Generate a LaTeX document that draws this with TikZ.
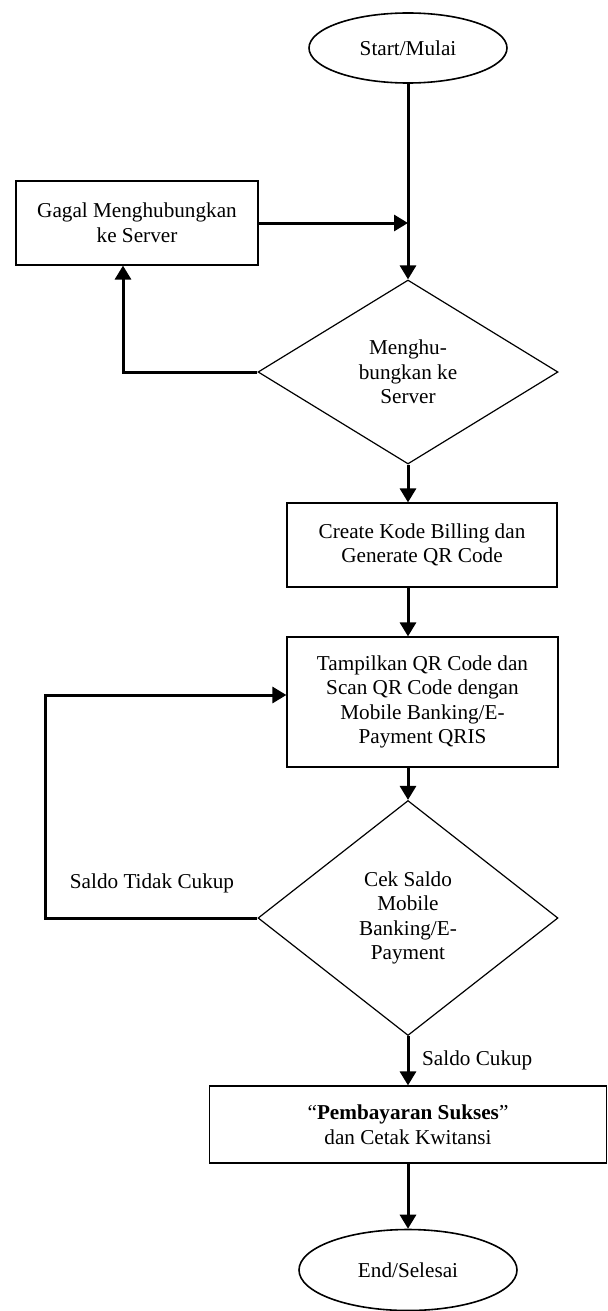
\documentclass[tikz,border=0pt]{standalone}
\usepackage{fontspec}
\setmainfont{Liberation Serif}
\usetikzlibrary{shapes.geometric,arrows.meta}

\tikzset{
    kotak/.style={draw,line width=0.6pt,rectangle,align=center,inner sep=0pt},
    oval/.style={draw,line width=0.8pt,ellipse,inner sep=0pt},
    belah/.style={draw,line width=0.6pt,diamond,align=center,inner sep=0pt},
    panah/.style={line width=1.5pt,-{Triangle[length=7pt,width=8pt]}},
}

\begin{document}
\begin{tikzpicture}[x=0.5pt,y=-0.5pt,font=\fontsize{10.6}{12.3}\selectfont]
            \useasboundingbox (0,0) rectangle (608,1311);
            \node[oval,minimum width=99pt,minimum height=35pt] (mulai) at (408,48) {Start/Mulai};
            \node[kotak,minimum width=121pt,minimum height=42pt] (gagal) at (137,223) {Gagal Menghubungkan\\ke Server};
            \node[belah,minimum width=150pt,minimum height=92pt] (konek) at (408,372) {Menghu-\\bungkan ke\\Server};
            \node[kotak,minimum width=135pt,minimum height=42pt] (create) at (422,545) {Create Kode Billing dan\\Generate QR Code};
            \node[kotak,minimum width=135.5pt,minimum height=65pt] (tampil) at (422.5,702) {Tampilkan QR Code dan\\Scan QR Code dengan\\Mobile Banking/E-\\Payment QRIS};
            \node[belah,minimum width=150pt,minimum height=117.5pt] (cek) at (408,918) {Cek Saldo\\Mobile\\Banking/E-\\Payment};
            \node[kotak,minimum width=198.5pt,minimum height=38.5pt] (bayar) at (408,1124.5) {``\textbf{Pembayaran Sukses}''\\dan Cetak Kwitansi};
            \node[oval,minimum width=109pt,minimum height=40.5pt] (selesai) at (408,1270) {End/Selesai};
            \node (tidakcukup) at (152,883) {Saldo Tidak Cukup};

            \coordinate (gabung) at (mulai.south |- gagal.east);
            \coordinate (kiri) at (45,918);

            \draw[panah] (mulai) -- (konek);
            \draw[panah] (gagal.east) -- (gabung);
            \draw[panah] (konek.west) -| ([xshift=-7pt]gagal.south);
            \draw[panah] (konek.south) -- (konek.south |- create.north);
            \draw[panah] (konek.south |- create.south) -- (konek.south |- tampil.north);
            \draw[panah] (cek.north |- tampil.south) -- (cek.north);
            \draw[panah] (cek.west) -- (kiri) |- ([yshift=3.5pt]tampil.west);
            \draw[panah] (cek.south) -- (bayar.north) node[midway,right,xshift=3pt] {Saldo Cukup};
            \draw[panah] (bayar) -- (selesai);
        \end{tikzpicture}
\end{document}
